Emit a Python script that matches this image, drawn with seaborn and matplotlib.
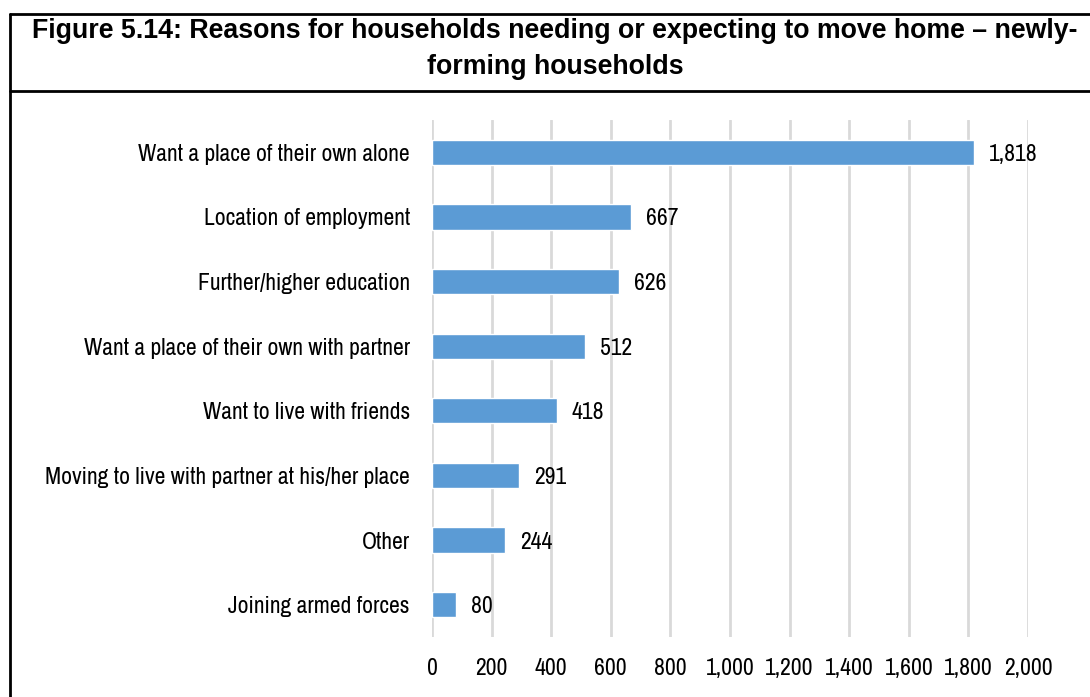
import matplotlib
matplotlib.use("Agg")
import matplotlib.pyplot as plt
from matplotlib.lines import Line2D
import seaborn as sns
import pandas as pd

reasons = [
    "Want a place of their own alone",
    "Location of employment",
    "Further/higher education",
    "Want a place of their own with partner",
    "Want to live with friends",
    "Moving to live with partner at his/her place",
    "Other",
    "Joining armed forces",
]
households = [1818, 667, 626, 512, 418, 291, 244, 80]
x_ticks = [0, 200, 400, 600, 800, 1000, 1200, 1400, 1600, 1800, 2000]

sns.set_theme(style="white")
plt.rcParams["font.family"] = ["Archivo Narrow", "Liberation Sans", "DejaVu Sans"]
plt.rcParams["text.color"] = "black"

W, H = 1090, 697
fig = plt.figure(figsize=(W / 100, H / 100), dpi=100)

df = pd.DataFrame({"reason": reasons, "households": households})

ax = fig.add_axes([432 / W, 1 - 637 / H, (1028 - 432) / W, (637 - 120) / H])
sns.barplot(data=df, x="households", y="reason", orient="h", color="#5B9BD5",
            saturation=1, width=0.39, ax=ax)

ax.set_xlim(0, 2000)
ax.set_ylim(len(reasons) - 0.5, -0.5)
ax.set_xticks(x_ticks)
ax.set_xticklabels([f"{t:,}" for t in x_ticks], fontsize=17)
ax.tick_params(axis="y", labelsize=17, pad=16, length=0, labelcolor="black")
ax.tick_params(axis="x", pad=15, length=0, labelcolor="black")
ax.set_xlabel("")
ax.set_ylabel("")
for s in ax.spines.values():
    s.set_visible(False)
ax.grid(axis="x", color="#D9D9D9", linewidth=2)
ax.set_axisbelow(True)

for i, v in enumerate(households):
    ax.annotate(f"{v:,}", xy=(v, i), xytext=(11, 0), textcoords="offset points",
                ha="left", va="center_baseline", fontsize=17, color="black",
                annotation_clip=False)

# framed title box
lw = 2.0
fig.add_artist(Line2D([9.5 / W, 1], [1 - 13.5 / H, 1 - 13.5 / H], color="black", lw=lw))
fig.add_artist(Line2D([9.5 / W, 1], [1 - 91 / H, 1 - 91 / H], color="black", lw=lw))
fig.add_artist(Line2D([9.5 / W, 9.5 / W], [1 - 13.5 / H, 0], color="black", lw=lw))

title_font = ["Liberation Sans", "DejaVu Sans"]
fig.text(555 / W, 1 - 38 / H,
         "Figure 5.14: Reasons for households needing or expecting to move home \u2013 newly-",
         ha="center", va="baseline", fontsize=19.3, fontweight="bold",
         color="black", family=title_font)
fig.text(555 / W, 1 - 74 / H, "forming households",
         ha="center", va="baseline", fontsize=19.3, fontweight="bold",
         color="black", family=title_font)

fig.savefig("out.png", dpi=100)
